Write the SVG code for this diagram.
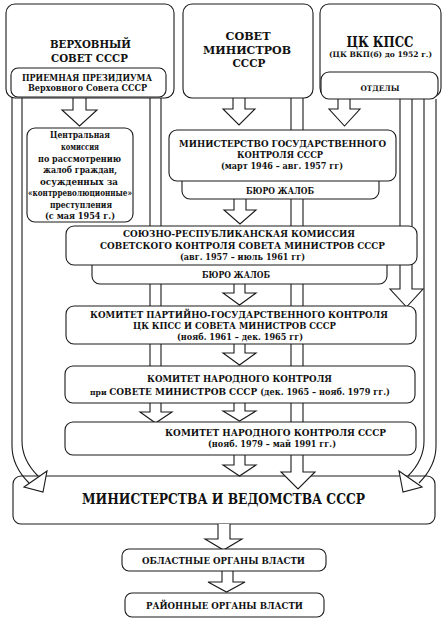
<svg xmlns="http://www.w3.org/2000/svg" width="446" height="621" viewBox="0 0 446 621">
<style>
.box{fill:#fff;stroke:#1a1a1a;stroke-width:1.1}
.ln{fill:none;stroke:#1a1a1a;stroke-width:1.1}
.ar{fill:#fff;stroke:#1a1a1a;stroke-width:1.1;stroke-linejoin:miter}
text{font-family:"DejaVu Serif","Liberation Serif",serif;font-weight:bold;fill:#111;text-anchor:middle}
.t13{font-size:11.8px}
.t11{font-size:9.8px}
.t10{font-size:9px}
.t9{font-size:8.4px}
.t8{font-size:7.6px}
</style>
<rect width="446" height="621" fill="#fff"/>

<g id="node-ministries">
<rect class="box" x="13" y="476" width="422" height="48" rx="8"/>
<text x="223.5" y="504" style="font-size:14.6px" textLength="283" lengthAdjust="spacingAndGlyphs">МИНИСТЕРСТВА И ВЕДОМСТВА СССР</text>
</g>

<g id="connectors">
<path class="ln" d="M12,98 V446 Q12,466 29,483"/>
<path class="ln" d="M22,98 V441 Q22,460 38,476"/>
<path class="ar" d="M24,487 L47,471 L43,492 Z"/>
<path class="ar" d="M150,98 V412 H140 L155.5,423 L172,412 H161 V98"/>
<path class="ar" d="M291,98 V472 H281 L298,489 L315,472 H303 V98"/>
<path class="ar" d="M400,99 V289 H390 L406.5,307 L423,289 H412 V99"/>
<path class="ln" d="M436,99 V446 Q436,466 419,483"/>
<path class="ln" d="M424,99 V441 Q424,460 408,476"/>
<path class="ar" d="M422,487 L399,471 L403,492 Z"/>
<path class="ar" d="M73,96 V110 H62 L79.5,126 L97,110 H86 V96"/>
<path class="ar" d="M233,98 V109 H223 L239,125 L255,109 H245 V98"/>
<path class="ar" d="M338,99 V109 H329 L344.5,126 L360,109 H350 V99"/>
<path class="ar" d="M234,199 V210 H224 L240,224 L256,210 H246 V199"/>
<path class="ar" d="M234,284 V293 H223 L239.5,305 L256,293 H245 V284"/>
<path class="ar" d="M234,344 V353 H223 L239.5,365 L256,353 H245 V344"/>
<path class="ar" d="M234,403 V411 H223 L239.5,421 L256,411 H245 V403"/>
<path class="ar" d="M234,455 V465 H223 L239.5,476 L256,465 H245 V455"/>
<path class="ar" d="M218,524 V539 H205 L223.5,550 L242,539 H230 V524"/>
<path class="ar" d="M222,571 V582 H208 L226.5,592 L245,582 H233 V571"/>
</g>

<g id="node-supreme-soviet">
<rect class="box" x="6" y="4" width="168" height="94" rx="9"/>
<text class="t13" x="90.5" y="48" textLength="81" lengthAdjust="spacingAndGlyphs">ВЕРХОВНЫЙ</text>
<text class="t13" x="89.5" y="62" textLength="77" lengthAdjust="spacingAndGlyphs">СОВЕТ СССР</text>
</g>
<g id="node-reception">
<rect class="box" x="11" y="68" width="155" height="29" rx="7"/>
<text class="t9" x="87" y="80.5" textLength="130" lengthAdjust="spacingAndGlyphs">ПРИЕМНАЯ ПРЕЗИДИУМА</text>
<text class="t9" x="87.5" y="91" textLength="119" lengthAdjust="spacingAndGlyphs">Верховного Совета СССР</text>
</g>

<g id="node-council">
<rect class="box" x="183" y="4" width="130" height="94" rx="9"/>
<text class="t13" x="248" y="40" textLength="45" lengthAdjust="spacingAndGlyphs">СОВЕТ</text>
<text class="t13" x="247" y="53.5" textLength="88" lengthAdjust="spacingAndGlyphs">МИНИСТРОВ</text>
<text class="t13" x="249" y="67" textLength="33" lengthAdjust="spacingAndGlyphs">СССР</text>
</g>

<g id="node-cc">
<rect class="box" x="320" y="4" width="121" height="93" rx="9"/>
<text x="380" y="46.5" style="font-size:14.4px" textLength="67" lengthAdjust="spacingAndGlyphs">ЦК КПСС</text>
<text class="t8" x="380.5" y="56.5" textLength="103" lengthAdjust="spacingAndGlyphs">(ЦК ВКП(б) до 1952 г.)</text>
</g>
<g id="node-departments">
<rect class="box" x="321" y="72" width="117" height="27" rx="8"/>
<text class="t8" x="380" y="90.5" textLength="39" lengthAdjust="spacingAndGlyphs">ОТДЕЛЫ</text>
</g>

<g id="node-commission">
<rect class="box" x="27" y="128" width="106" height="94" rx="8"/>
<text class="t9" x="80" y="138" textLength="60" lengthAdjust="spacingAndGlyphs">Центральная</text>
<text class="t9" x="80" y="149.5" textLength="38" lengthAdjust="spacingAndGlyphs">комиссия</text>
<text class="t9" x="79.5" y="161.5" textLength="83" lengthAdjust="spacingAndGlyphs">по рассмотрению</text>
<text class="t9" x="80" y="173" textLength="74" lengthAdjust="spacingAndGlyphs">жалоб граждан,</text>
<text class="t9" x="79" y="184.5" textLength="78" lengthAdjust="spacingAndGlyphs">осужденных за</text>
<text class="t9" x="80" y="196" textLength="104" lengthAdjust="spacingAndGlyphs">«контрреволюционные»</text>
<text class="t9" x="81" y="207.5" textLength="62" lengthAdjust="spacingAndGlyphs">преступления</text>
<text class="t9" x="80" y="219" textLength="70" lengthAdjust="spacingAndGlyphs">(с мая 1954 г.)</text>
</g>

<g id="node-mgk">
<rect class="box" x="182" y="165" width="197" height="34" rx="8"/>
<text class="t9" x="280" y="193.5" textLength="68" lengthAdjust="spacingAndGlyphs">БЮРО ЖАЛОБ</text>
<rect class="box" x="169" y="130" width="227" height="51" rx="8"/>
<text class="t11" x="282.5" y="147" textLength="207" lengthAdjust="spacingAndGlyphs">МИНИСТЕРСТВО ГОСУДАРСТВЕННОГО</text>
<text class="t11" x="280" y="157.5" textLength="86" lengthAdjust="spacingAndGlyphs">КОНТРОЛЯ СССР</text>
<text class="t10" x="282" y="169" textLength="122" lengthAdjust="spacingAndGlyphs">(март 1946 – авг. 1957 гг)</text>
</g>

<g id="node-srk">
<rect class="box" x="92" y="250" width="295" height="34" rx="8"/>
<text class="t9" x="236" y="278.3" textLength="68" lengthAdjust="spacingAndGlyphs">БЮРО ЖАЛОБ</text>
<rect class="box" x="66" y="226" width="351" height="39" rx="8"/>
<text class="t11" x="239" y="237.3" textLength="232" lengthAdjust="spacingAndGlyphs">СОЮЗНО-РЕСПУБЛИКАНСКАЯ КОМИССИЯ</text>
<text class="t11" x="242.5" y="249.3" textLength="285" lengthAdjust="spacingAndGlyphs">СОВЕТСКОГО КОНТРОЛЯ СОВЕТА МИНИСТРОВ СССР</text>
<text class="t10" x="242.5" y="260.3" textLength="125" lengthAdjust="spacingAndGlyphs">(авг. 1957 – июль 1961 гг)</text>
</g>

<g id="node-kpgk">
<rect class="box" x="66" y="306" width="350" height="38" rx="8"/>
<text class="t11" x="239" y="317.5" textLength="298" lengthAdjust="spacingAndGlyphs">КОМИТЕТ ПАРТИЙНО-ГОСУДАРСТВЕННОГО КОНТРОЛЯ</text>
<text class="t11" x="234.5" y="328.7" textLength="203" lengthAdjust="spacingAndGlyphs">ЦК КПСС И СОВЕТА МИНИСТРОВ СССР</text>
<text class="t10" x="240" y="340.3" textLength="126" lengthAdjust="spacingAndGlyphs">(нояб. 1961 – дек. 1965 гг)</text>
</g>

<g id="node-knk1965">
<rect class="box" x="65" y="366" width="350" height="37" rx="8"/>
<text class="t11" x="239.5" y="382" textLength="185" lengthAdjust="spacingAndGlyphs">КОМИТЕТ НАРОДНОГО КОНТРОЛЯ</text>
<text x="240" y="394.6" textLength="300" lengthAdjust="spacingAndGlyphs"><tspan style="font-size:8px">при </tspan><tspan style="font-size:9.4px">СОВЕТЕ МИНИСТРОВ СССР </tspan><tspan style="font-size:8.6px">(дек. 1965 – нояб. 1979 гг.)</tspan></text>
</g>

<g id="node-knk1979">
<rect class="box" x="65" y="422" width="351" height="33" rx="8"/>
<text class="t11" x="275.5" y="436.3" textLength="221" lengthAdjust="spacingAndGlyphs">КОМИТЕТ НАРОДНОГО КОНТРОЛЯ СССР</text>
<text class="t10" x="272" y="447" textLength="128" lengthAdjust="spacingAndGlyphs">(нояб. 1979 – май 1991 гг.)</text>
</g>

<g id="node-regional">
<rect class="box" x="122" y="549" width="204" height="22" rx="7"/>
<text class="t10" x="223.5" y="564" textLength="163" lengthAdjust="spacingAndGlyphs">ОБЛАСТНЫЕ ОРГАНЫ ВЛАСТИ</text>
</g>

<g id="node-district">
<rect class="box" x="125" y="593" width="199" height="24" rx="7"/>
<text class="t10" x="224.5" y="609" textLength="157" lengthAdjust="spacingAndGlyphs">РАЙОННЫЕ ОРГАНЫ ВЛАСТИ</text>
</g>
</svg>
